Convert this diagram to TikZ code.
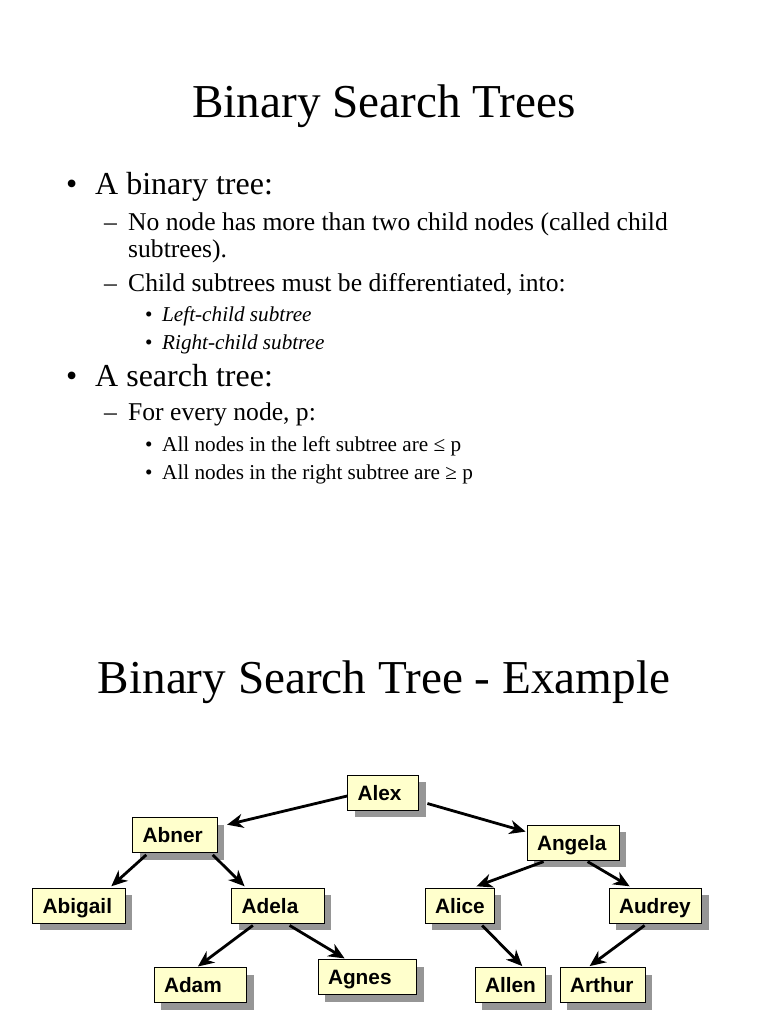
\documentclass[tikz,border=0pt]{standalone}
\usepackage{fontspec}
\setmainfont{Liberation Serif}
\newfontfamily\arialbold{Liberation Sans Bold}
\usetikzlibrary{calc,shadows,arrows.meta}
\definecolor{boxfill}{HTML}{FFFFCC}
\definecolor{shadowgray}{HTML}{969696}
\begin{document}
\begin{tikzpicture}[x=1pt,y=-1pt,
  txt/.style={anchor=base west,inner sep=0pt},
  ttl/.style={anchor=base,inner sep=0pt,font=\fontsize{47.2}{50}\selectfont},
  lone/.style={txt,font=\fontsize{32}{36}\selectfont},
  ltwo/.style={txt,font=\fontsize{25.6}{30}\selectfont},
  lthree/.style={txt,font=\fontsize{21.2}{24}\selectfont},
  tnode/.style={draw=black,line width=0.8pt,fill=boxfill,inner ysep=0pt,inner xsep=10pt,
    minimum height=35pt,text height=15pt,text depth=0pt,align=left,
    text width=#1pt-20pt,minimum width=#1pt,
    font=\arialbold\fontsize{20.8}{24}\selectfont,
    drop shadow={shadow xshift=7pt,shadow yshift=-7pt,fill=shadowgray,opacity=1}},
  arr/.style={line width=2.8pt,-{Stealth[length=16pt,width=14pt,inset=5pt]}}
]
\useasboundingbox[fill=white] (0,0) rectangle (768,1024);

% Slide 1
\node[ttl] (t1) at (384,118) {Binary Search Trees};
\node[lone] (b1) at (66,195) {•};
\node[lone] (a1) at (95,195) {A binary tree:};
\node[ltwo] (d1) at (104,230) {–};
\node[ltwo] (a2) at (128,230) {No node has more than two child nodes (called child};
\node[ltwo] (a3) at (128,257) {subtrees).};
\node[ltwo] (d2) at (104,291) {–};
\node[ltwo] (a4) at (128,291) {Child subtrees must be differentiated, into:};
\node[lthree] (b2) at (145,321) {•};
\node[lthree] (a5) at (162,321) {\itshape Left-child subtree};
\node[lthree] (b3) at (145,349) {•};
\node[lthree] (a6) at (162,349) {\itshape Right-child subtree};
\node[lone] (b4) at (66,386) {•};
\node[lone] (a7) at (95,386) {A search tree:};
\node[ltwo] (d3) at (104,420) {–};
\node[ltwo] (a8) at (128,420) {For every node, p:};
\node[lthree] (b5) at (145,451) {•};
\node[lthree] (a9) at (162,451) {All nodes in the left subtree are ≤ p};
\node[lthree] (b6) at (145,479) {•};
\node[lthree] (a10) at (162,479) {All nodes in the right subtree are ≥ p};

% Slide 2
\node[ttl] (t2) at (384,693) {Binary Search Tree - Example};

\node[tnode=71.2] (alex) at (383.1,792.5) {Alex};
\node[tnode=84.6] (abner) at (175,835.2) {Abner};
\node[tnode=92] (angela) at (573,842.7) {Angela};
\node[tnode=92.3] (abigail) at (78.85,905.8) {Abigail};
\node[tnode=92.3] (adela) at (277.85,905.8) {Adela};
\node[tnode=69] (alice) at (459.5,905.8) {Alice};
\node[tnode=92.7] (audrey) at (655.35,905.8) {Audrey};
\node[tnode=92.7] (adam) at (200.35,985) {Adam};
\node[tnode=98.7] (agnes) at (367.35,977) {Agnes};
\node[tnode=70] (allen) at (510,985) {Allen};
\node[tnode=85] (arthur) at (602.5,985) {Arthur};

\draw[arr] ($(alex.west)+(0,3.5)$) -- ($(abner.north east)+(9.4,7.4)$);
\draw[arr] ($(alex.east)+(8.3,11)$) -- ($(angela.north west)+(-1,6.8)$);
\draw[arr] ($(abner.south west)+(14,1.7)$) -- ($(abigail.north west)+(79,-1.6)$);
\draw[arr] ($(abner.south east)+(-5,1.7)$) -- ($(adela.north west)+(13.3,-1.6)$);
\draw[arr] ($(adela.south west)+(21.6,1.7)$) -- ($(adam.north west)+(44.3,-0.6)$);
\draw[arr] ($(adela.south west)+(58.3,1.7)$) -- ($(agnes.north west)+(27,-0.7)$);
\draw[arr] ($(angela.south west)+(17,1)$) -- ($(alice.north east)+(-18,-1.6)$);
\draw[arr] ($(angela.south west)+(61,1)$) -- ($(audrey.north west)+(21,-1.6)$);
\draw[arr] ($(alice.south east)+(-12.3,1.7)$) -- ($(allen.north west)+(47.7,-1)$);
\draw[arr] ($(audrey.south west)+(36,1.7)$) -- ($(arthur.north west)+(30,-1)$);
\end{tikzpicture}
\end{document}
